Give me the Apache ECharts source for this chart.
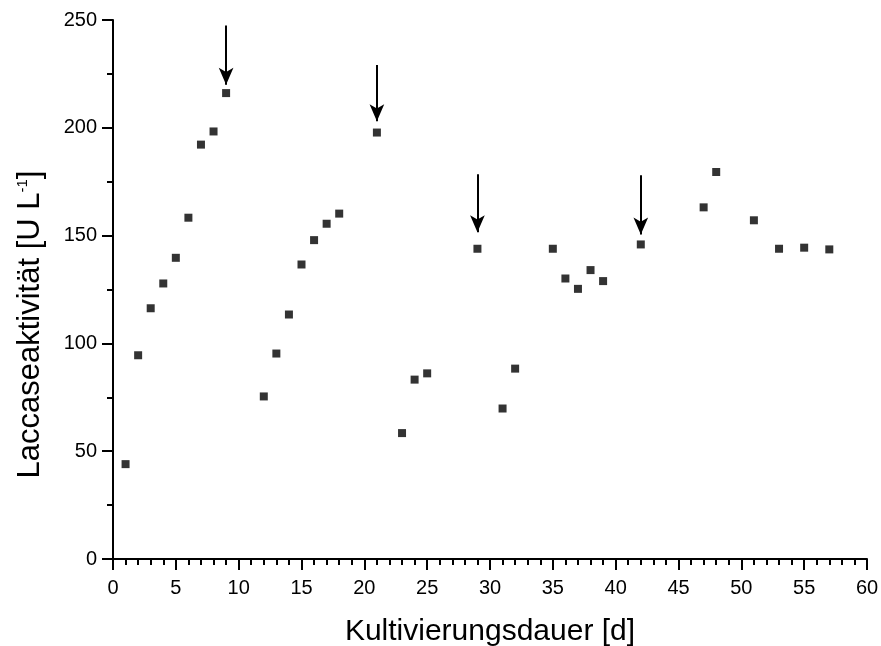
<!DOCTYPE html>
<html>
<head>
<meta charset="utf-8">
<script src="https://cdn.jsdelivr.net/npm/echarts@6/dist/echarts.min.js"></script>
<style>
    html, body { margin: 0; padding: 0; background: #fff; }
    #chart { width: 881px; height: 646px; }
</style>
</head>
<body>
<div id="chart"></div>
<script>
// Messdaten: Tag + Laccaseaktivität
const days = [1, 2, 3, 4, 5, 6, 7, 8, 9, 12, 13, 14, 15, 16, 17, 18, 21, 23, 24, 25, 29, 31, 32, 35, 36, 37, 38, 39, 42, 47, 48, 51, 53, 55, 57]
const activity = [44, 94.5, 116.3, 127.8, 139.7, 158.3, 192.2, 198.3, 216.1, 75.4, 95.3, 113.4, 136.6, 147.9, 155.5, 160.2, 197.8, 58.4, 83.2, 86.1, 143.9, 69.8, 88.3, 143.9, 130.1, 125.3, 134, 128.9, 145.9, 163.1, 179.5, 157.1, 143.9, 144.4, 143.6]

// Pfeile (Zeitpunkte + Anfang/Spitze in Datenkoordinaten)
const arrowDays = [9, 21, 29, 42]
const arrowTop = [247.4, 229.1, 178.5, 178]
const arrowTip = [220, 203, 151.5, 150.5]

const black = '#000'
const font = 'Liberation Sans, Arial, sans-serif'

;(function () {
    const mychart = echarts.init(document.getElementById('chart'))

    const points = days.map((d, i) => [d, activity[i]])
    const arrows = arrowDays.map((d, i) => [{ coord: [d, arrowTop[i]] }, { coord: [d, arrowTip[i]] }])

    const option = {
        animation: false,
        backgroundColor: '#fff',
        // feste Plotfläche, nicht von den Achsentiteln verkleinern lassen
        grid: { left: 113, right: 14, top: 20, bottom: 87, containLabel: false, outerBoundsMode: 'none' },
        xAxis: {
            type: 'value',
            min: 0,
            max: 60,
            interval: 5,
            name: 'Kultivierungsdauer [d]',
            nameLocation: 'middle',
            nameGap: 58,
            nameTextStyle: { color: black, fontSize: 30, fontFamily: font },
            axisLine: { onZero: false, lineStyle: { color: black, width: 2 } },
            axisTick: { length: 11, lineStyle: { color: black, width: 2 } },
            minorTick: { show: true, splitNumber: 5, length: 6, lineStyle: { color: black, width: 2 } },
            axisLabel: { color: black, fontSize: 20, fontFamily: font, margin: 19 },
            splitLine: { show: false },
        },
        yAxis: {
            type: 'value',
            min: 0,
            max: 250,
            interval: 50,
            name: 'Laccaseaktivität [U L{sup|-1}]',
            nameLocation: 'middle',
            nameGap: 67,
            nameTextStyle: {
                color: black,
                fontSize: 31,
                fontFamily: font,
                // Titel sitzt im Original etwas unterhalb der Achsenmitte
                padding: [0, 70, 0, 0],
                rich: {
                    sup: { fontSize: 15, verticalAlign: 'top', color: black, fontFamily: font, padding: [0, 0, 14, 0] },
                },
            },
            axisLine: { onZero: false, lineStyle: { color: black, width: 2 } },
            axisTick: { length: 11, lineStyle: { color: black, width: 2 } },
            minorTick: { show: true, splitNumber: 2, length: 6, lineStyle: { color: black, width: 2 } },
            axisLabel: { color: black, fontSize: 20, fontFamily: font, margin: 16 },
            splitLine: { show: false },
        },
        series: [
            {
                type: 'scatter',
                data: points,
                symbol: 'rect',
                symbolSize: 8,
                itemStyle: { color: black },
                markLine: {
                    silent: true,
                    symbol: ['none', 'arrow'],
                    symbolSize: [11, 17],
                    label: { show: false },
                    lineStyle: { color: black, width: 2, type: 'solid' },
                    data: arrows,
                },
            },
        ],
    }

    mychart.setOption(option)
})()
</script>
</body>
</html>
